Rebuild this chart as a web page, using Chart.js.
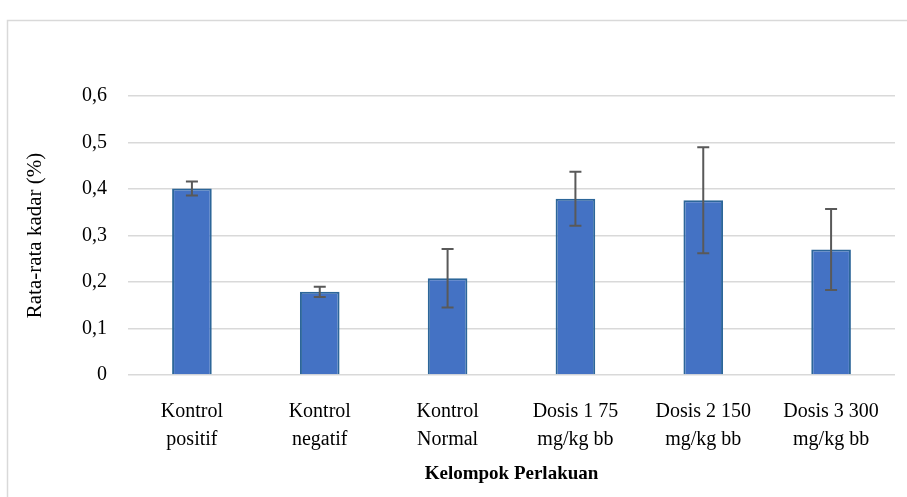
<!DOCTYPE html>
<html>
<head>
<meta charset="utf-8">
<script src="https://cdn.jsdelivr.net/npm/chart.js@4.4.1/dist/chart.umd.min.js"></script>
<style>
  html, body { margin: 0; padding: 0; background: #fff; }
  #wrap { width: 907px; height: 497px; position: relative; }
</style>
</head>
<body>
<div id="wrap"><canvas id="chart"></canvas></div>
<script>
// data
const kelompok = [
  ["Kontrol", "positif"],
  ["Kontrol", "negatif"],
  ["Kontrol", "Normal"],
  ["Dosis 1 75", "mg/kg bb"],
  ["Dosis 2 150", "mg/kg bb"],
  ["Dosis 3 300", "mg/kg bb"]
];
const rataKadar = [0.401, 0.179, 0.208, 0.379, 0.376, 0.270];
const galat = [0.015, 0.011, 0.063, 0.058, 0.114, 0.087];
const yTicks = [0, 0.1, 0.2, 0.3, 0.4, 0.5, 0.6];

const serif = "'Liberation Serif', 'DejaVu Serif', serif";

// bingkai luar abu-abu
const bingkai = {
  id: "bingkai",
  beforeDraw(chart){
    const c = chart.ctx;
    c.save();
    c.fillStyle = "#fff";
    c.fillRect(0, 0, chart.width, chart.height);
    c.strokeStyle = "#d9d9d9";
    c.lineWidth = 1.5;
    c.strokeRect(7.5, 20.5, chart.width + 20, chart.height + 20);
    c.restore();
  }
};

// error bar dari array galat
const errorBars = {
  id: "errorBars",
  afterDatasetsDraw(chart){
    const c = chart.ctx;
    const y = chart.scales.y;
    const meta = chart.getDatasetMeta(0);
    c.save();
    c.strokeStyle = "#595959";
    c.lineWidth = 2;
    meta.data.forEach((bar, i) => {
      const v = rataKadar[i], e = galat[i];
      const top = y.getPixelForValue(v + e);
      const bot = y.getPixelForValue(v - e);
      const x = bar.x;
      c.beginPath();
      c.moveTo(x, top); c.lineTo(x, bot);
      c.moveTo(x - 6, top); c.lineTo(x + 6, top);
      c.moveTo(x - 6, bot); c.lineTo(x + 6, bot);
      c.stroke();
    });
    c.restore();
  }
};

new Chart(document.getElementById("chart"), {
  type: "bar",
  data: {
    labels: kelompok,
    datasets: [{
      label: "Rata-rata kadar",
      data: rataKadar,
      backgroundColor: "#4472C4",
      borderColor: "#2C6699",
      borderWidth: 2,
      barPercentage: 0.31,
      categoryPercentage: 1
    }]
  },
  options: {
    responsive: true,
    maintainAspectRatio: false,
    animation: false,
    layout: { padding: { left: 8, right: 12, top: 96, bottom: 12 } },
    plugins: {
      legend: { display: false },
      tooltip: { enabled: false }
    },
    scales: {
      x: {
        grid: { display: false },
        border: { display: false },
        ticks: {
          color: "#000",
          font: { family: serif, size: 20, lineHeight: 1.4 },
          padding: 15,
          maxRotation: 0,
          autoSkip: false
        },
        title: {
          display: true,
          text: "Kelompok Perlakuan",
          color: "#000",
          font: { family: serif, size: 19, weight: "bold" },
          padding: { top: 4, bottom: 0 }
        },
        afterFit: (s) => { s.height = 110; }
      },
      y: {
        min: 0,
        max: 0.6,
        afterBuildTicks: (s) => { s.ticks = yTicks.map(v => ({ value: v })); },
        grid: { color: "#d9d9d9", lineWidth: 1.5, drawTicks: false },
        border: { display: false },
        ticks: {
          color: "#000",
          font: { family: serif, size: 20 },
          padding: 21,
          callback: (v) => v === 0 ? "0" : Number(v).toFixed(1).replace(".", ",")
        },
        title: {
          display: true,
          text: "Rata-rata kadar (%)",
          color: "#000",
          font: { family: serif, size: 21 },
          padding: { top: 15, bottom: 0 }
        },
        afterFit: (s) => { s.width = 120; }
      }
    }
  },
  plugins: [bingkai, errorBars]
});
</script>
</body>
</html>
